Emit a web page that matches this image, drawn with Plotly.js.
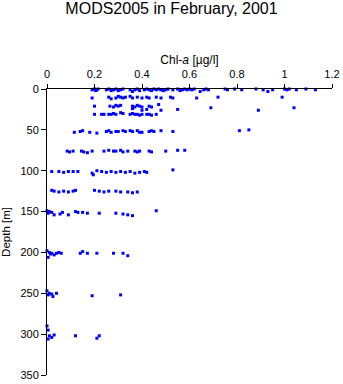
<!DOCTYPE html>
<html>
<head>
<meta charset="utf-8">
<script src="https://cdn.plot.ly/plotly-3.0.1.min.js"></script>
<style>html,body{margin:0;padding:0;background:#fff;}#chart{width:343px;height:384px;}</style>
</head>
<body>
<div id="chart"></div>
<script>
// Chlorophyll-a concentration (µg/l) and sampling depth (m), read row by row
var chlA = [
  // surface (0-3 m)
  0.19,0.20,0.205,0.21,0.215,0.25,0.26,0.27,0.28,0.29,0.30,0.31,0.32,0.35,0.36,0.37,0.38,0.39,0.41,0.42,0.43,0.44,0.45,0.46,0.47,0.48,0.49,0.50,0.51,0.53,0.55,0.56,0.57,0.58,0.59,0.60,0.61,0.62,0.645,0.66,0.67,0.68,0.75,0.76,0.79,0.82,0.88,0.91,0.93,0.95,1.00,1.01,1.02,1.05,1.09,1.13,
  // ~10 m
  0.19,0.26,0.27,0.29,0.30,0.31,0.32,0.33,0.35,0.36,0.38,0.40,0.42,0.43,0.46,0.48,0.52,0.53,0.63,0.72,0.99,
  // ~20 m
  0.20,0.265,0.28,0.29,0.30,0.31,0.36,0.37,0.38,0.39,0.40,0.43,0.44,0.47,0.36,0.40,0.42,0.48,0.55,0.69,0.89,1.04,
  // ~30 m
  0.20,0.23,0.24,0.26,0.27,0.28,0.29,0.31,0.32,0.35,0.36,0.37,0.38,0.39,0.40,0.42,0.43,0.44,0.46,
  // ~50 m
  0.115,0.14,0.15,0.18,0.21,0.25,0.26,0.27,0.29,0.30,0.32,0.33,0.35,0.36,0.38,0.39,0.40,0.43,0.44,0.45,0.48,0.53,0.81,0.85,
  // ~75 m
  0.085,0.095,0.11,0.145,0.155,0.17,0.19,0.24,0.26,0.28,0.29,0.31,0.32,0.34,0.37,0.38,0.39,0.43,0.44,0.50,0.55,0.58,
  // ~100 m
  0.02,0.05,0.07,0.09,0.11,0.13,0.19,0.195,0.21,0.23,0.25,0.27,0.29,0.31,0.33,0.35,0.37,0.39,0.41,0.42,0.53,
  // ~125 m
  0.02,0.03,0.05,0.07,0.09,0.11,0.12,0.20,0.22,0.24,0.26,0.29,0.31,0.34,0.36,0.38,
  // ~150 m
  0.00,0.005,0.01,0.02,0.03,0.055,0.065,0.09,0.12,0.13,0.15,0.17,0.22,0.29,0.32,0.34,0.36,0.46,
  // ~200 m
  0.00,0.005,0.01,0.015,0.02,0.03,0.04,0.05,0.06,0.14,0.15,0.17,0.21,0.28,0.32,0.34,
  // ~250 m
  0.00,0.005,0.01,0.02,0.025,0.04,0.19,0.31,
  // ~300 m
  0.00,0.005,0.01,0.02,0.03,0.12,0.21,0.22,0.005
];
var depthM = [
  1,0,2,1,0,1,0,2,1,0,2,1,0,1,3,1,0,2,1,0,1,2,0,1,0,1,2,1,0,1,0,2,1,0,1,0,1,0,3,1,0,1,0,1,0,1,0,1,3,1,0,1,0,1,0,1,
  11,10,12,11,9,10,11,10,9,11,10,11,10,11,10,11,10,11,11,10,10,
  21,21,22,20,21,20,21,22,20,21,22,21,22,19,24,26,25,26,25,23,26,23,
  31,31,31,31,31,30,31,29,30,31,30,31,31,32,31,31,31,32,31,
  53,52,51,53,54,52,51,53,52,52,51,52,51,52,51,53,53,52,51,52,51,52,51,50,
  76,77,76,76,77,78,76,76,75,76,76,75,77,76,76,77,76,76,77,76,75,75,
  101,101,102,101,101,101,103,105,100,101,102,101,102,101,102,101,103,102,101,102,99,
  124,125,126,125,126,125,124,124,125,126,125,125,126,126,127,126,
  149,152,150,151,154,153,151,154,150,151,151,152,152,152,153,154,155,149,
  198,206,200,202,201,203,201,200,201,201,199,201,201,201,201,204,
  247,252,250,251,254,250,253,252,
  290,295,302,304,301,302,305,302,306
];
var xTickVals = [0,0.2,0.4,0.6,0.8,1,1.2];
var xTickText = ['0','0.2','0.4','0.6','0.8','1','1.2'];
var yTickVals = [0,50,100,150,200,250,300,350];

var fontFam = 'Liberation Sans, Arial, Helvetica, sans-serif';
var trace = {
  x: chlA, y: depthM, type: 'scatter', mode: 'markers',
  marker: {symbol: 'square', size: 3, color: '#0000ff', line: {width: 0}},
  cliponaxis: false, hoverinfo: 'none'
};
var layout = {
  width: 343, height: 384,
  margin: {l: 47, r: 11, t: 89, b: 9, pad: 0},
  paper_bgcolor: '#fff', plot_bgcolor: '#fff',
  showlegend: false,
  font: {family: fontFam, size: 11, color: '#000'},
  title: {text: 'MODS2005 in February, 2001', font: {family: fontFam, size: 16, color: '#000'},
          x: 0.5, xanchor: 'center', y: 0.978, yanchor: 'middle'},
  xaxis: {
    side: 'top', range: [0, 1.2], tickvals: xTickVals, ticktext: xTickText,
    showline: true, linecolor: '#000', linewidth: 1, mirror: false,
    ticks: 'outside', ticklen: 4, tickcolor: '#000', tickwidth: 1,
    ticklabelstandoff: 2,
    showgrid: false, zeroline: false, tickfont: {size: 11},
    title: {text: 'Chl-<i>a</i> [µg/l]', font: {size: 12}, standoff: 0}
  },
  yaxis: {
    range: [350, 0], tickvals: yTickVals,
    showline: true, linecolor: '#000', linewidth: 1, mirror: false,
    ticks: 'outside', ticklen: 5, tickcolor: '#000', tickwidth: 1,
    showgrid: false, zeroline: false, tickfont: {size: 11},
    title: {text: 'Depth [m]', font: {size: 11.5}, standoff: 9}
  }
};
Plotly.newPlot('chart', [trace], layout, {staticPlot: true, displayModeBar: false});
</script>
</body>
</html>
